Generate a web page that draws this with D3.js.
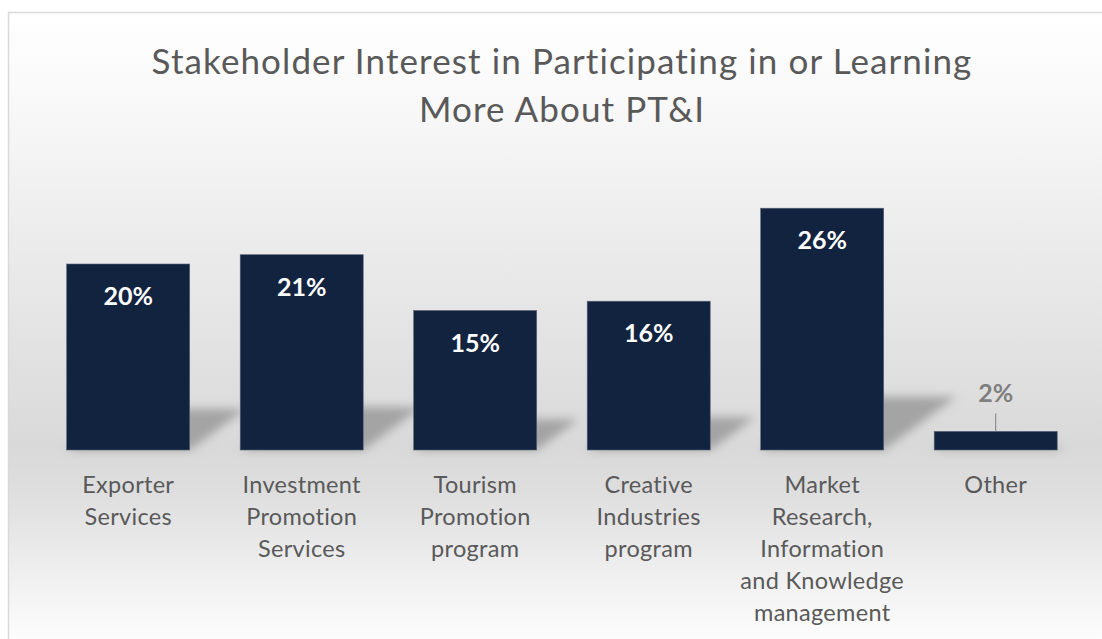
<!DOCTYPE html>
<html>
<head>
<meta charset="utf-8">
<script src="https://cdn.jsdelivr.net/npm/d3@7"></script>
<style>
  body { margin: 0; background: #fff; }
  text { font-family: Lato, "Open Sans", sans-serif; }
</style>
</head>
<body>
<div id="chart"></div>
<script>
var width = 1102;
var height = 639;

var categories = [
  "Exporter Services",
  "Investment Promotion Services",
  "Tourism Promotion program",
  "Creative Industries program",
  "Market Research, Information and Knowledge management",
  "Other"
];
var categoryLines = [
  ["Exporter", "Services"],
  ["Investment", "Promotion", "Services"],
  ["Tourism", "Promotion", "program"],
  ["Creative", "Industries", "program"],
  ["Market", "Research,", "Information", "and Knowledge", "management"],
  ["Other"]
];
var values = [0.20, 0.21, 0.15, 0.16, 0.26, 0.02];
var titleLines = ["Stakeholder Interest in Participating in or Learning", "More About PT&I"];

var barColor = "#12233f";
var textGray = "#595959";
var baseY = 450;

var svg = d3.select("#chart")
  .append("svg")
  .attr("width", width)
  .attr("height", height);

var defs = svg.append("defs");

// background gradient: white -> gray at the floor -> white
var grad = defs.append("linearGradient")
  .attr("id", "bg")
  .attr("x1", 0).attr("x2", 0)
  .attr("gradientUnits", "userSpaceOnUse")
  .attr("y1", 12).attr("y2", 650);
grad.append("stop").attr("offset", "0").attr("stop-color", "#ffffff");
grad.append("stop").attr("offset", "0.15").attr("stop-color", "#f8f8f8");
grad.append("stop").attr("offset", "0.68").attr("stop-color", "#d9d9d9");
grad.append("stop").attr("offset", "0.75").attr("stop-color", "#dedede");
grad.append("stop").attr("offset", "1").attr("stop-color", "#ffffff");

var blur = defs.append("filter")
  .attr("id", "blur")
  .attr("x", "-50%").attr("y", "-50%")
  .attr("width", "200%").attr("height", "200%");
blur.append("feGaussianBlur").attr("stdDeviation", 5);

svg.append("rect")
  .attr("x", 8.5)
  .attr("y", 12.5)
  .attr("width", 1200)
  .attr("height", 700)
  .attr("fill", "url(#bg)")
  .attr("stroke", "#d9d9d9")
  .attr("stroke-width", 1.5);

/* Scales */
var x = d3.scaleBand()
  .domain(categories)
  .range([41.45, 1082.45])
  .paddingInner(0.291)
  .paddingOuter(0.1455);

var y = d3.scaleLinear()
  .domain([0, 0.30])
  .range([baseY, baseY - 279]);

/* Title */
svg.append("g")
  .selectAll("text")
  .data(titleLines)
  .enter()
  .append("text")
  .attr("x", 562)
  .attr("y", (d, i) => 74 + i * 48)
  .attr("text-anchor", "middle")
  .attr("fill", textGray)
  .style("font-size", "35px")
  .style("letter-spacing", "1.1px")
  .text(d => d);

/* Shadows behind the bars */
svg.append("g")
  .attr("filter", "url(#blur)")
  .selectAll("path")
  .data(values)
  .enter()
  .append("path")
  .attr("fill", "#9a9a9a")
  .attr("opacity", 0.85)
  .attr("d", function(d, i) {
    var x0 = x(categories[i]);
    var x1 = x0 + x.bandwidth();
    var h = baseY - y(d);
    var dx = h * 0.3;
    var dy = h * 0.22;
    return "M" + x0 + "," + baseY +
      "L" + x1 + "," + baseY +
      "L" + (x1 + dx) + "," + (baseY - dy) +
      "L" + (x0 + dx) + "," + (baseY - dy) + "Z";
  });

/* Bars */
svg.append("g")
  .selectAll("rect")
  .data(values)
  .enter()
  .append("rect")
  .attr("x", (d, i) => x(categories[i]))
  .attr("y", d => y(d))
  .attr("width", x.bandwidth())
  .attr("height", d => baseY - y(d))
  .attr("fill", barColor)
  .attr("stroke", "#5a6478")
  .attr("stroke-width", 0.6);

/* Value labels */
var fmt = d3.format(".0%");
svg.append("g")
  .selectAll("text")
  .data(values)
  .enter()
  .append("text")
  .attr("x", (d, i) => x(categories[i]) + x.bandwidth() / 2)
  .attr("y", d => (baseY - y(d) > 60 ? y(d) + 41 : y(d) - 29))
  .attr("text-anchor", "middle")
  .attr("fill", d => (baseY - y(d) > 60 ? "#ffffff" : "#7f7f7f"))
  .style("font-size", "25px")
  .style("font-weight", "bold")
  .text(d => fmt(d));

// leader line for small bars
svg.append("g")
  .selectAll("line")
  .data(values.map((v, i) => ({ v: v, c: categories[i] })).filter(d => baseY - y(d.v) <= 60))
  .enter()
  .append("line")
  .attr("x1", d => x(d.c) + x.bandwidth() / 2)
  .attr("x2", d => x(d.c) + x.bandwidth() / 2)
  .attr("y1", d => y(d.v) - 18)
  .attr("y2", d => y(d.v))
  .attr("stroke", "#7f7f7f")
  .attr("stroke-width", 1);

/* Category labels */
var cat = svg.append("g")
  .selectAll("text")
  .data(categories)
  .enter()
  .append("text")
  .attr("text-anchor", "middle")
  .attr("fill", textGray)
  .style("font-size", "23.5px")
  .style("letter-spacing", "0.3px");

cat.selectAll("tspan")
  .data((d, i) => categoryLines[i].map(t => ({ t: t, c: d })))
  .enter()
  .append("tspan")
  .attr("x", d => x(d.c) + x.bandwidth() / 2)
  .attr("y", (d, j) => 493 + j * 32)
  .text(d => d.t);
</script>
</body>
</html>
